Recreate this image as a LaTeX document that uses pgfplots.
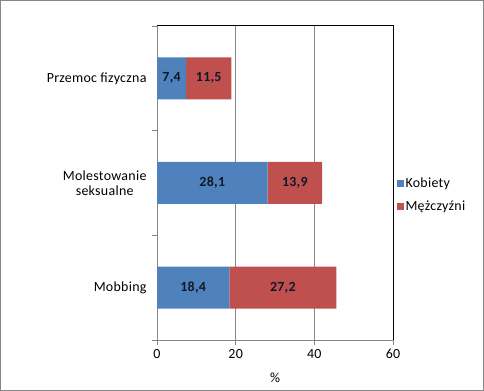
\documentclass[border=0pt]{standalone}
\usepackage{pgfplots}
\pgfplotsset{compat=1.18}
\usepackage{pgfplotstable}
\usepackage{fontspec}
\setmainfont{Carlito}[LetterSpace=2]
\definecolor{kob}{HTML}{4F81BD}
\definecolor{mez}{HTML}{C0504D}
\definecolor{axgray}{HTML}{868686}
\definecolor{lbl}{HTML}{101828}
\pgfplotstableread{
y v lab
0 18.4 18,4
1 28.1 28,1
2 7.4 7,4
}\kobiety
\pgfplotstableread{
y v lab
0 27.2 27,2
1 13.9 13,9
2 11.5 11,5
}\mezczyzni
\begin{document}
\begin{tikzpicture}
\fill[white] (0bp,0bp) rectangle (484bp,391bp);
\draw[axgray, line width=1bp] (0.5bp,0.5bp) rectangle (483.5bp,390.5bp);
\begin{axis}[at={(157bp,51bp)}, anchor=south west, scale only axis,
  width=236bp, height=314bp,
  xbar stacked, bar width=42bp,
  xmin=0, xmax=60, ymin=-0.5, ymax=2.5,
  xtick={0,20,40,60},
  ytick={-0.5,0.5,1.5,2.5},
  y tick label as interval,
  yticklabels={Mobbing,{Molestowanie\\seksualne},Przemoc fizyczna},
  yticklabel style={align=center, font=\fontsize{14}{15.5}\selectfont, xshift=-2bp},
  xticklabel style={font=\fontsize{14}{15.5}\selectfont, yshift=-1bp},
  /pgf/number format/assume math mode=true,
  axis lines=left, axis line style={-, axgray},
  tick style={axgray, line width=0.8bp},
  major tick length=5bp, tick align=outside,
  xmajorgrids, grid style={axgray, line width=0.8bp},
  xlabel={\%}, xlabel style={font=\fontsize{14}{15.5}\selectfont, yshift=-7bp},
  legend style={at={(1.01,0.462)}, anchor=west, draw=none, fill=none,
    font=\fontsize{14}{15.5}\selectfont, row sep=8bp, inner sep=1bp},
  legend cell align=left,
  clip=false,
  nodes near coords, point meta=explicit symbolic,
  every node near coord/.append style={anchor=center,
    font=\bfseries\fontsize{14}{15.5}\selectfont, text=lbl},
]
\addplot[fill=kob, draw=none,
  legend image code/.code={\fill[kob] (0bp,-3.5bp) rectangle (7bp,3.5bp);}]
  table[x=v, y=y, meta=lab] {\kobiety};
\addlegendentry{Kobiety}
\addplot[fill=mez, draw=none,
  legend image code/.code={\fill[mez] (0bp,-3.5bp) rectangle (7bp,3.5bp);}]
  table[x=v, y=y, meta=lab] {\mezczyzni};
\addlegendentry{Mężczyźni}
\draw[black, line width=1bp] (rel axis cs:0,1) -- (rel axis cs:1,1) -- (rel axis cs:1,0);
\end{axis}
\end{tikzpicture}
\end{document}
